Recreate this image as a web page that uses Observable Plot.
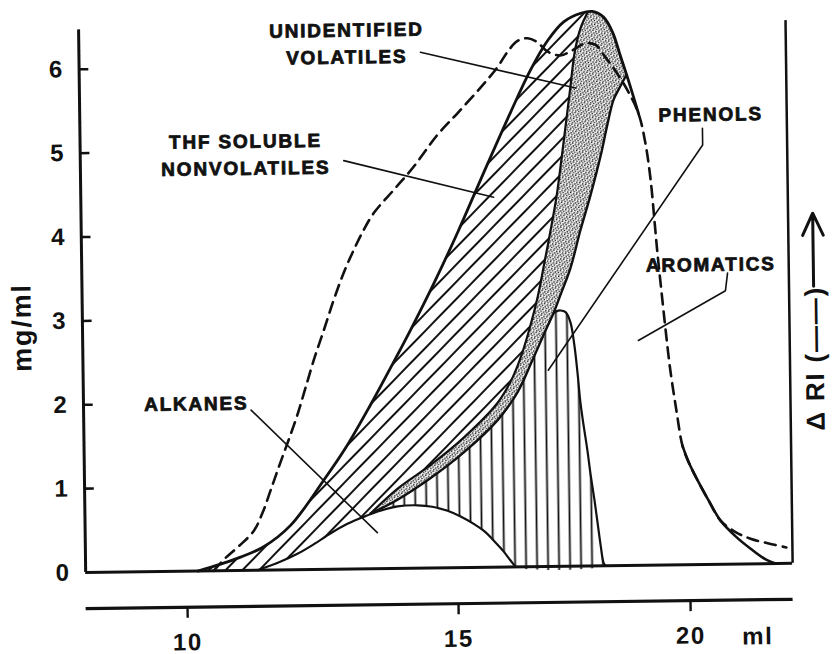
<!DOCTYPE html>
<html>
<head>
<meta charset="utf-8">
<script src="https://cdn.jsdelivr.net/npm/d3@7"></script>
<script src="https://cdn.jsdelivr.net/npm/@observablehq/plot@0.6"></script>
<style>
  html, body { margin: 0; padding: 0; background: #fff; }
  #chart svg { display: block; transform: rotate(-0.75deg); transform-origin: 416px 327px; }
</style>
</head>
<body>
<div id="chart"></div>
<script>
// Elution volume (ml) vs concentration (mg/ml)

// Outer envelope: total eluted material
const envelope = [
  [10.20, 0], [10.62, 0.08], [10.99, 0.16], [11.42, 0.28], [11.92, 0.53], [12.54, 1.06],
  [12.95, 1.44], [13.42, 1.95], [13.80, 2.39], [14.18, 2.84], [14.62, 3.39], [15.08, 3.99],
  [15.66, 4.70], [16.26, 5.42], [16.70, 5.92], [17.08, 6.27], [17.43, 6.49], [17.80, 6.59],
  [18.05, 6.61], [18.29, 6.54], [18.48, 6.36], [18.64, 6.08], [18.81, 5.78], [19.02, 5.38],
  [19.16, 5.02], [19.26, 4.59], [19.33, 4.11], [19.39, 3.69], [19.46, 3.27], [19.54, 2.80],
  [19.63, 2.32], [19.75, 1.84], [19.87, 1.42], [20.00, 1.22], [20.19, 1.00], [20.42, 0.76],
  [20.67, 0.52], [20.99, 0.33], [21.31, 0.18], [21.63, 0.05], [21.84, 0]
];
// Stretch of the envelope that runs under the RI trace
const envelopeUnderTrace = [19.02, 19.87];

// Refractive index detector trace (dashed)
const riTrace = [
  [10.49, 0], [10.71, 0.15], [10.96, 0.29], [11.24, 0.47], [11.41, 0.69], [11.56, 0.95],
  [11.73, 1.25], [11.90, 1.54], [12.08, 1.86], [12.23, 2.17], [12.40, 2.52], [12.58, 2.85],
  [12.77, 3.21], [12.96, 3.53], [13.15, 3.80], [13.34, 4.04], [13.53, 4.24], [13.90, 4.51],
  [14.27, 4.78], [14.72, 5.16], [15.12, 5.42], [15.62, 5.72], [15.99, 5.96], [16.21, 6.14],
  [16.43, 6.27], [16.65, 6.30], [16.86, 6.25], [17.07, 6.14], [17.35, 6.09], [17.61, 6.15],
  [17.89, 6.23], [18.11, 6.21], [18.32, 6.06], [18.53, 5.90], [18.79, 5.66], [19.02, 5.38],
  [19.16, 5.02], [19.26, 4.59], [19.33, 4.11], [19.39, 3.69], [19.46, 3.27], [19.54, 2.80],
  [19.63, 2.32], [19.75, 1.84], [19.87, 1.42], [20.00, 1.22], [20.19, 1.00], [20.42, 0.76],
  [20.67, 0.52], [20.99, 0.38], [21.31, 0.30], [21.70, 0.24], [22.08, 0.19]
];

// Boundary between THF soluble nonvolatiles and unidentified volatiles
const volatilesUpper = [
  [13.40, 0.66], [13.90, 0.95], [14.52, 1.23], [15.16, 1.55], [15.90, 1.96], [16.23, 2.26],
  [16.45, 2.56], [16.63, 2.88], [16.79, 3.21], [16.95, 3.63], [17.09, 4.01], [17.23, 4.42],
  [17.34, 4.84], [17.46, 5.32], [17.56, 5.73], [17.66, 6.13], [17.79, 6.41], [17.95, 6.60]
];

// Lower boundary of the unidentified volatiles band
const volatilesLower = [
  [13.40, 0.66], [13.90, 0.82], [14.51, 1.07], [15.15, 1.37], [15.89, 1.75], [16.33, 2.08],
  [16.66, 2.46], [16.95, 2.81], [17.13, 3.02], [17.28, 3.23], [17.51, 3.56], [17.73, 4.00],
  [17.96, 4.42], [18.19, 4.89], [18.34, 5.25], [18.48, 5.55], [18.61, 5.69], [18.77, 5.85]
];

// Phenols peak, where it leaves the volatiles band
const phenolsPeak = [
  [17.19, 3.04], [17.28, 3.05], [17.39, 3.03], [17.49, 2.91], [17.57, 2.63], [17.63, 2.30],
  [17.68, 1.97], [17.74, 1.70], [17.82, 1.38], [17.88, 1.10], [17.96, 0.78], [18.02, 0.51],
  [18.08, 0.24], [18.14, 0.03], [18.18, 0]
];

// Alkanes
const alkanes = [
  [11.30, 0], [11.73, 0.10], [12.04, 0.19], [12.34, 0.30], [12.66, 0.43], [12.97, 0.54],
  [13.27, 0.62], [13.58, 0.69], [13.90, 0.74], [14.27, 0.75], [14.54, 0.73], [14.82, 0.68],
  [15.07, 0.61], [15.35, 0.52], [15.60, 0.42], [15.77, 0.32], [15.98, 0.19], [16.13, 0.08],
  [16.24, 0]
];

// Labels and their leader lines
const labelText = ["UNIDENTIFIED\nVOLATILES", "THF SOLUBLE\nNONVOLATILES", "PHENOLS", "AROMATICS", "ALKANES"];
const labelX = [13.07, 11.18, 20.57, 20.53, 10.21];
const labelY = [6.29, 4.98, 5.39, 3.60, 2.02];

const volatilesLeader = [[14.43, 6.15], [17.67, 5.70]];
const nonvolatilesLeader = [[12.99, 4.87], [15.87, 4.41]];
const phenolsLeader = [[20.39, 5.20], [20.39, 5.00], [17.00, 2.34]];
const aromaticsLeader = [[20.89, 3.47], [20.84, 3.26], [18.95, 2.68]];
const alkanesLeader = [[11.22, 1.91], [13.52, 0.43]];

// Axes
const xTicks = [10, 15, 20];
const yTicks = [0, 1, 2, 3, 4, 5, 6];
const mlExtent = [8.13, 22.21];
const mgExtent = [0, 6.47];
const yTickReach = 8.30; // inner end of the short left-axis ticks
const yTitle = {text: "mg/ml", x: 7.02, y: 2.93};
const xUnit = {text: "ml", x: 21.44, y: -0.87};
const riTitle = {text: "Δ RI (——)", x: 22.76, y: 2.44};
const riArrow = {x: 22.74, y1: 3.30, y2: 4.17};

// ---- build shapes from the curves ----
const pts = a => a.map(([x, y]) => ({x, y}));
const rev = a => a.slice().reverse();

const peakX = volatilesUpper[volatilesUpper.length - 1][0];
const bandEndX = volatilesLower[volatilesLower.length - 1][0];
const bandStartX = volatilesUpper[0][0];
const phenolsStartX = phenolsPeak[0][0];

const nonvolatilesRegion = [
  ...envelope.filter(([x]) => x < peakX),
  ...rev(volatilesUpper),
  ...rev(alkanes.filter(([x]) => x < bandStartX))
];
const volatilesRegion = [
  ...volatilesUpper,
  ...envelope.filter(([x]) => x > peakX && x < bandEndX),
  ...rev(volatilesLower)
];
const phenolsUpper = [...volatilesLower.filter(([x]) => x < phenolsStartX), ...phenolsPeak];
const phenolsRegion = [
  ...phenolsUpper,
  ...rev(alkanes.filter(([x]) => x >= bandStartX))
];
const phenolsArc = phenolsUpper.filter(([x], i, a) => x >= phenolsStartX || (a[i + 1] && a[i + 1][0] >= phenolsStartX));
const tickRows = yTicks.filter(d => d > 0).map(v => ({v}));

const ink = "#111";
const font = "Liberation Sans, Arial, Helvetica, sans-serif";
const lab = labelText.map((t, i) => ({t, x: labelX[i], y: labelY[i]}));

const svg = Plot.plot({
  width: 833,
  height: 654,
  marginLeft: 82,
  marginRight: 44,
  marginTop: 25,
  marginBottom: 86.3,
  style: {fontFamily: font, letterSpacing: "1.8px", background: "#fff", overflow: "visible"},
  x: {type: "linear", domain: [mlExtent[0], 10, 15, 20, mlExtent[1]], range: [82, 183.4, 454.4, 686.4, 789]},
  y: {domain: mgExtent, range: [567.7, 25]},
  marks: [
    // filled regions
    Plot.line(pts(nonvolatilesRegion), {x: "x", y: "y", curve: "catmull-rom", fill: "url(#hatch)", stroke: "none"}),
    Plot.line(pts(volatilesRegion), {x: "x", y: "y", curve: "catmull-rom", fill: "url(#stipple)", stroke: "none"}),
    Plot.line(pts(phenolsRegion), {x: "x", y: "y", curve: "catmull-rom", fill: "url(#vlines)", stroke: "none"}),

    // frame
    Plot.ruleX([mlExtent[0]], {stroke: ink, strokeWidth: 3}),
    Plot.ruleX([mlExtent[1]], {stroke: ink, strokeWidth: 2.5}),
    Plot.ruleY([0], {stroke: ink, strokeWidth: 3}),
    Plot.ruleY([0], {stroke: ink, strokeWidth: 3.2, dy: 36}),

    // short inward ticks on the left axis
    Plot.link(tickRows, {x1: () => mlExtent[0], x2: () => yTickReach, y1: "v", y2: "v", stroke: ink, strokeWidth: 2.6}),

    // boundaries
    Plot.line(pts(alkanes), {x: "x", y: "y", curve: "catmull-rom", stroke: ink, strokeWidth: 2.2}),
    Plot.line(pts(volatilesUpper), {x: "x", y: "y", curve: "catmull-rom", stroke: ink, strokeWidth: 2.2}),
    Plot.line(pts(volatilesLower), {x: "x", y: "y", curve: "catmull-rom", stroke: ink, strokeWidth: 2.4}),
    Plot.line(pts(phenolsArc), {x: "x", y: "y", curve: "catmull-rom", stroke: ink, strokeWidth: 2.2}),
    Plot.line(pts(envelope.filter(([x]) => x <= envelopeUnderTrace[0])), {x: "x", y: "y", curve: "catmull-rom", stroke: ink, strokeWidth: 2.8}),
    Plot.line(pts(envelope.filter(([x]) => x >= envelopeUnderTrace[1])), {x: "x", y: "y", curve: "catmull-rom", stroke: ink, strokeWidth: 2.6}),
    Plot.line(pts(riTrace), {x: "x", y: "y", curve: "catmull-rom", stroke: ink, strokeWidth: 2.6, strokeDasharray: "11,7"}),

    // leaders
    ...[volatilesLeader, nonvolatilesLeader, phenolsLeader, aromaticsLeader, alkanesLeader].map(l =>
      Plot.line(pts(l), {x: "x", y: "y", stroke: ink, strokeWidth: 1.6})),

    // axes
    Plot.axisY(yTicks, {tickSize: 0, tickPadding: 15, tickFormat: d => String(d), fontSize: 24, fontWeight: "bold", fill: ink, label: null}),
    Plot.axisX(xTicks, {anchor: "bottom", dy: 36, tickSize: 11, tickPadding: 15, fontSize: 24, fontWeight: "bold", stroke: ink, fill: ink, strokeWidth: 2.4, label: null}),

    // texts
    Plot.text(lab, {x: "x", y: "y", text: "t", fontSize: 19, fontWeight: "bold", lineHeight: 1.42, fill: ink, stroke: ink, strokeWidth: 0.8}),
    Plot.text([yTitle], {x: "x", y: "y", text: "text", rotate: -90, fontSize: 27, fontWeight: "bold", fill: ink}),
    Plot.text([xUnit], {x: "x", y: "y", text: "text", fontSize: 24, fontWeight: "bold", fill: ink}),
    Plot.text([riTitle], {x: "x", y: "y", text: "text", rotate: -90, fontSize: 26, fontWeight: "bold", fill: ink}),
    Plot.arrow([riArrow], {x: "x", y1: "y1", y2: "y2", stroke: ink, strokeWidth: 3, headLength: 14, headAngle: 50})
  ]
});

// fill patterns for the bands
const defs = d3.select(svg).insert("defs", ":first-child");
const hatch = defs.append("pattern").attr("id", "hatch")
  .attr("patternUnits", "userSpaceOnUse").attr("width", 12).attr("height", 12)
  .attr("patternTransform", "rotate(45)");
hatch.append("line").attr("x1", 6).attr("y1", -1).attr("x2", 6).attr("y2", 13)
  .attr("stroke", ink).attr("stroke-width", 2);

const vlines = defs.append("pattern").attr("id", "vlines")
  .attr("patternUnits", "userSpaceOnUse").attr("width", 11).attr("height", 11);
vlines.append("line").attr("x1", 5.5).attr("y1", -1).attr("x2", 5.5).attr("y2", 12)
  .attr("stroke", ink).attr("stroke-width", 1.8);

const stipple = defs.append("pattern").attr("id", "stipple")
  .attr("patternUnits", "userSpaceOnUse").attr("width", 6).attr("height", 6)
  .attr("patternTransform", "rotate(17)");
stipple.append("rect").attr("width", 6).attr("height", 6).attr("fill", "#fff");
[[0.8, 0.9], [3.7, 0.5], [2.3, 2.6], [5.2, 2.9], [0.9, 4.6], [3.8, 4.9]]
  .forEach(([cx, cy]) => stipple.append("circle").attr("cx", cx).attr("cy", cy).attr("r", 0.82).attr("fill", ink));

document.getElementById("chart").append(svg);
</script>
</body>
</html>
